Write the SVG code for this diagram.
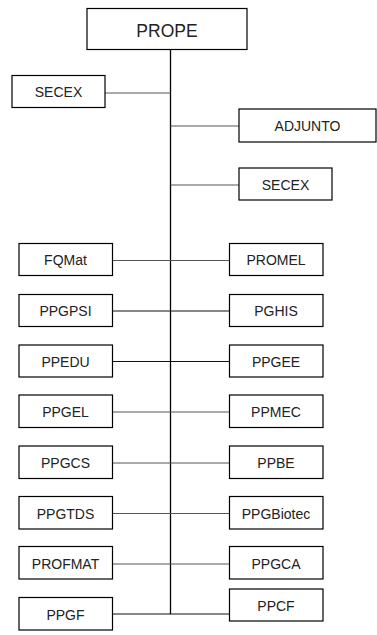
<svg xmlns="http://www.w3.org/2000/svg" width="377" height="635" viewBox="0 0 377 635">
<style>
rect{fill:#fff;stroke:#000;stroke-width:1.2}
text{font-family:"Liberation Sans",Arial,sans-serif;font-size:14px;fill:#222;text-anchor:middle}
.big{font-size:17.5px}
.h{stroke:#555;stroke-width:1.2;fill:none}
.k{stroke:#111}
.v{stroke:#000;stroke-width:1.3;fill:none}
</style>
<rect x="0" y="0" width="377" height="635" style="stroke:none;fill:#fff"/>
<g id="connectors">
<line class="v" x1="170.5" y1="49" x2="170.5" y2="614"/>
<line class="h" x1="105" y1="93" x2="170.5" y2="93"/>
<line class="h" x1="170.5" y1="126" x2="239" y2="126"/>
<line class="h" x1="170.5" y1="185" x2="239" y2="185"/>
<line class="h" x1="112.5" y1="260.5" x2="229.5" y2="260.5"/>
<line class="h k" x1="112.5" y1="311" x2="229.5" y2="311"/>
<line class="h k" x1="112.5" y1="361.5" x2="229.5" y2="361.5"/>
<line class="h" x1="112.5" y1="412" x2="229.5" y2="412"/>
<line class="h" x1="112.5" y1="463" x2="229.5" y2="463"/>
<line class="h" x1="112.5" y1="513.5" x2="229.5" y2="513.5"/>
<line class="h" x1="112.5" y1="564" x2="229.5" y2="564"/>
<line class="h k" x1="112.5" y1="614" x2="229.5" y2="614"/>
</g>
<g id="PROPE"><rect x="87" y="8.5" width="160" height="41"/><text class="big" x="167" y="37">PROPE</text></g>
<g id="SECEX1"><rect x="12" y="75.5" width="93" height="32"/><text x="58.5" y="97">SECEX</text></g>
<g id="ADJUNTO"><rect x="239" y="109" width="137" height="33"/><text x="307.5" y="131">ADJUNTO</text></g>
<g id="SECEX2"><rect x="239" y="168" width="93" height="32"/><text x="285.5" y="190">SECEX</text></g>
<g id="FQMat"><rect x="19" y="243.5" width="93.5" height="32"/><text x="65.5" y="265">FQMat</text></g>
<g id="PROMEL"><rect x="229.5" y="243.5" width="93.5" height="32"/><text x="276" y="265">PROMEL</text></g>
<g id="PPGPSI"><rect x="19" y="294.5" width="93.5" height="32"/><text x="65.5" y="316">PPGPSI</text></g>
<g id="PGHIS"><rect x="229.5" y="294.5" width="93.5" height="32"/><text x="276" y="316">PGHIS</text></g>
<g id="PPEDU"><rect x="19" y="345" width="93.5" height="32"/><text x="65.5" y="366.5">PPEDU</text></g>
<g id="PPGEE"><rect x="229.5" y="345" width="93.5" height="32"/><text x="276" y="366.5">PPGEE</text></g>
<g id="PPGEL"><rect x="19" y="395" width="93.5" height="32.5"/><text x="65.5" y="417">PPGEL</text></g>
<g id="PPMEC"><rect x="229.5" y="395" width="93.5" height="32.5"/><text x="276" y="417">PPMEC</text></g>
<g id="PPGCS"><rect x="19" y="446" width="93.5" height="32.5"/><text x="65.5" y="468">PPGCS</text></g>
<g id="PPBE"><rect x="229.5" y="446" width="93.5" height="32.5"/><text x="276" y="468">PPBE</text></g>
<g id="PPGTDS"><rect x="19" y="496.5" width="93.5" height="32.5"/><text x="65.5" y="518.5">PPGTDS</text></g>
<g id="PPGBiotec"><rect x="229.5" y="496.5" width="93.5" height="32.5"/><text x="276" y="518.5">PPGBiotec</text></g>
<g id="PROFMAT"><rect x="19" y="546.5" width="93.5" height="32.5"/><text x="65.5" y="568.5">PROFMAT</text></g>
<g id="PPGCA"><rect x="229.5" y="546.5" width="93.5" height="32.5"/><text x="276" y="568.5">PPGCA</text></g>
<g id="PPGF"><rect x="19" y="597.5" width="93.5" height="32.5"/><text x="65.5" y="619.5">PPGF</text></g>
<g id="PPCF"><rect x="229.5" y="589" width="93.5" height="32"/><text x="276" y="610.5">PPCF</text></g>
</svg>
